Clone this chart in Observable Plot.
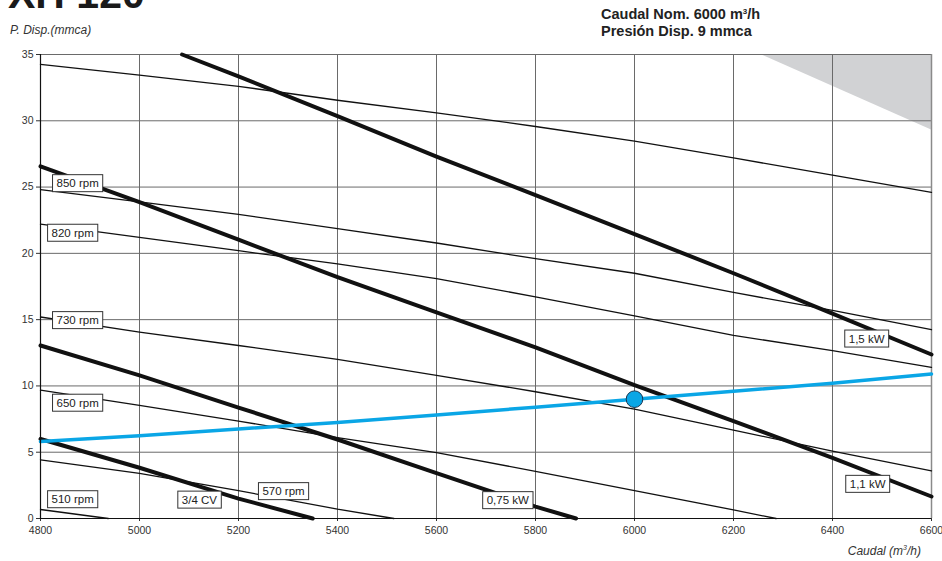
<!DOCTYPE html>
<html><head><meta charset="utf-8">
<script src="https://cdn.jsdelivr.net/npm/d3@7"></script>
<script src="https://cdn.jsdelivr.net/npm/@observablehq/plot@0.6"></script>
<style>
html,body{margin:0;padding:0;background:#fff;}
#wrap{position:relative;width:942px;height:561px;overflow:hidden;font-family:"Liberation Sans",Arial,sans-serif;}
#wrap svg{position:absolute;left:0;top:0;}
</style></head><body><div id="wrap"></div>
<script>
// ---- tick values ----
const xTicks = [4800, 5000, 5200, 5400, 5600, 5800, 6000, 6200, 6400, 6600];
const yTicks = [0, 5, 10, 15, 20, 25, 30, 35];

// ---- fan speed curves (thin), [caudal m3/h, presión mmca] ----
const curveTop = [[4800,34.25],[5000,33.45],[5200,32.6],[5400,31.55],[5600,30.6],[5800,29.57],[6000,28.46],[6200,27.2],[6400,25.9],[6600,24.6]];
const rpm850 = [[4800,24.8],[5000,23.88],[5200,22.94],[5400,21.86],[5600,20.78],[5800,19.6],[6000,18.5],[6200,17.05],[6400,15.7],[6600,14.24]];
const rpm820 = [[4800,22.2],[5000,21.2],[5200,20.2],[5400,19.2],[5600,18.1],[5800,16.72],[6000,15.28],[6200,13.81],[6400,12.67],[6600,11.4]];
const rpm730 = [[4800,15.2],[5000,14.06],[5200,13.05],[5400,12.0],[5600,10.8],[5800,9.56],[6000,8.25],[6200,6.67],[6400,5.08],[6600,3.6]];
const rpm650 = [[4800,9.68],[5000,8.54],[5200,7.35],[5400,6.1],[5600,4.97],[5800,3.56],[6000,2.1],[6200,0.65],[6286,0]];
const rpm570 = [[4800,4.43],[5000,3.4],[5200,2.1],[5400,0.7],[5514,0]];
const rpm510 = [[4800,0.68],[4937,0]];

// ---- power curves (thick) ----
const kw15 = [[5086,35],[5200,33.35],[5400,30.35],[5600,27.3],[5800,24.4],[6000,21.45],[6200,18.5],[6400,15.45],[6600,12.37]];
const kw11 = [[4800,26.56],[5000,23.87],[5200,21.03],[5400,18.2],[5600,15.55],[5800,12.9],[6000,10.06],[6200,7.35],[6400,4.57],[6600,1.66]];
const kw075 = [[4800,13.05],[5000,10.8],[5200,8.37],[5400,5.96],[5600,3.43],[5800,0.9],[5882,0]];
const cv34 = [[4800,6.0],[5000,3.83],[5200,1.5],[5350,0]];

// ---- system curve and nominal point ----
const systemCurve = [[4800,5.8],[5000,6.25],[5200,6.75],[5400,7.25],[5600,7.8],[5800,8.4],[6000,9.0],[6200,9.6],[6400,10.2],[6600,10.9]];
const nominalPoint = [[6000, 9]];

// ---- out-of-range zone (grey) ----
const greyZoneQ = [6255, 6600];
const greyZoneLow = [35, 29.3];

// ---- curve labels ----
const labelTexts = ["850 rpm","820 rpm","730 rpm","650 rpm","510 rpm","3/4 CV","570 rpm","0,75 kW","1,5 kW","1,1 kW"];
const labelQ = [4875, 4865, 4875, 4875, 4865, 5121, 5291, 5744, 6469, 6471];
const labelP = [25.27, 21.53, 14.94, 8.71, 1.43, 1.4, 2.04, 1.36, 13.55, 2.59];

// ---- build tables ----
const toRows = (name, pts) => pts.map(([q, p]) => ({curve: name, q, p}));
const thinRows = [
  ...toRows("top", curveTop), ...toRows("850", rpm850), ...toRows("820", rpm820),
  ...toRows("730", rpm730), ...toRows("650", rpm650), ...toRows("570", rpm570), ...toRows("510", rpm510)
];
const thickRows = [
  ...toRows("1.5kW", kw15), ...toRows("1.1kW", kw11), ...toRows("0.75kW", kw075), ...toRows("3/4CV", cv34)
];
const sysRows = toRows("sys", systemCurve);
const ptRows = toRows("pt", nominalPoint);
const greyRows = greyZoneQ.map((q, i) => ({q, lo: greyZoneLow[i], hi: 35}));
const labelRows = labelTexts.map((t, i) => ({label: t, q: labelQ[i], p: labelP[i]}));

const FONT = '"Liberation Sans", Arial, sans-serif';

const chart = Plot.plot({
  width: 942, height: 561,
  marginLeft: 40, marginRight: 11, marginTop: 54, marginBottom: 43,
  style: {fontFamily: FONT, fontSize: "10.5px", color: "#333", background: "transparent", overflow: "visible"},
  x: {domain: [4800, 6600], ticks: xTicks, tickFormat: d3.format("d"), tickSize: 3, tickPadding: 5, label: null},
  y: {domain: [0, 35], ticks: yTicks, tickFormat: d3.format("d"), tickSize: 4, tickPadding: 3, label: null},
  marks: [
    Plot.areaY(greyRows, {x: "q", y1: "lo", y2: "hi", fill: "#d1d2d4"}),
    Plot.ruleX(xTicks.slice(1, -1), {stroke: "#6a6a6a", strokeWidth: 1}),
    Plot.ruleY(yTicks.slice(1), {stroke: "#6a6a6a", strokeWidth: 1}),
    Plot.ruleX([6600], {stroke: "#8a8a8a", strokeWidth: 1.5}),
    Plot.line(thinRows, {x: "q", y: "p", z: "curve", stroke: "#111", strokeWidth: 1.3}),
    Plot.line(thickRows, {x: "q", y: "p", z: "curve", stroke: "#111", strokeWidth: 4}),
    Plot.line(sysRows, {x: "q", y: "p", stroke: "#0aa6e6", strokeWidth: 3.5}),
    Plot.dot(ptRows, {x: "q", y: "p", r: 8.3, fill: "#0aa6e6", stroke: "#1b3550", strokeWidth: 1}),
    Plot.ruleX([4800], {stroke: "#111", strokeWidth: 1.2}),
    Plot.ruleY([0], {stroke: "#111", strokeWidth: 1.2}),
    Plot.text(labelRows, {x: "q", y: "p", text: "label", fontSize: 11.5, fill: "#222", fontFamily: FONT})
  ]
});

const wrap = document.getElementById("wrap");
wrap.appendChild(chart);

// white boxes behind curve labels
d3.select(chart).selectAll('g[aria-label="text"] text').each(function () {
  const b = this.getBBox();
  const r = document.createElementNS("http://www.w3.org/2000/svg", "rect");
  r.setAttribute("x", b.x - 4);
  r.setAttribute("y", b.y - 2.5);
  r.setAttribute("width", b.width + 8);
  r.setAttribute("height", b.height + 5);
  r.setAttribute("fill", "#fff");
  r.setAttribute("stroke", "#333");
  r.setAttribute("stroke-width", "1");
  const tr = this.getAttribute("transform");
  if (tr) r.setAttribute("transform", tr);
  this.parentNode.insertBefore(r, this);
});

// header and axis titles
const ns = "http://www.w3.org/2000/svg";
const over = d3.select(wrap).append("svg").attr("width", 942).attr("height", 561)
  .style("pointer-events", "none").attr("font-family", FONT);
over.append("text").attr("x", 8).attr("y", 8).attr("font-size", 41).attr("font-weight", "bold")
  .attr("fill", "#1a1a1a").text("XH 120");
const l1 = over.append("text").attr("x", 601).attr("y", 19).attr("font-size", 14.5)
  .attr("font-weight", "bold").attr("fill", "#222");
l1.append("tspan").text("Caudal Nom. 6000 m");
l1.append("tspan").attr("dy", -5).attr("font-size", 8).text("3");
l1.append("tspan").attr("dy", 5).text("/h");
over.append("text").attr("x", 601).attr("y", 36).attr("font-size", 14.5)
  .attr("font-weight", "bold").attr("fill", "#222").text("Presión Disp. 9 mmca");
over.append("text").attr("x", 10).attr("y", 34).attr("font-size", 12)
  .attr("font-style", "italic").attr("fill", "#333").text("P. Disp.(mmca)");
const cx = over.append("text").attr("x", 921).attr("y", 555).attr("font-size", 12)
  .attr("font-style", "italic").attr("fill", "#333").attr("text-anchor", "end");
cx.append("tspan").text("Caudal (m");
cx.append("tspan").attr("dy", -5).attr("font-size", 7).text("3");
cx.append("tspan").attr("dy", 5).text("/h)");
</script></body></html>
